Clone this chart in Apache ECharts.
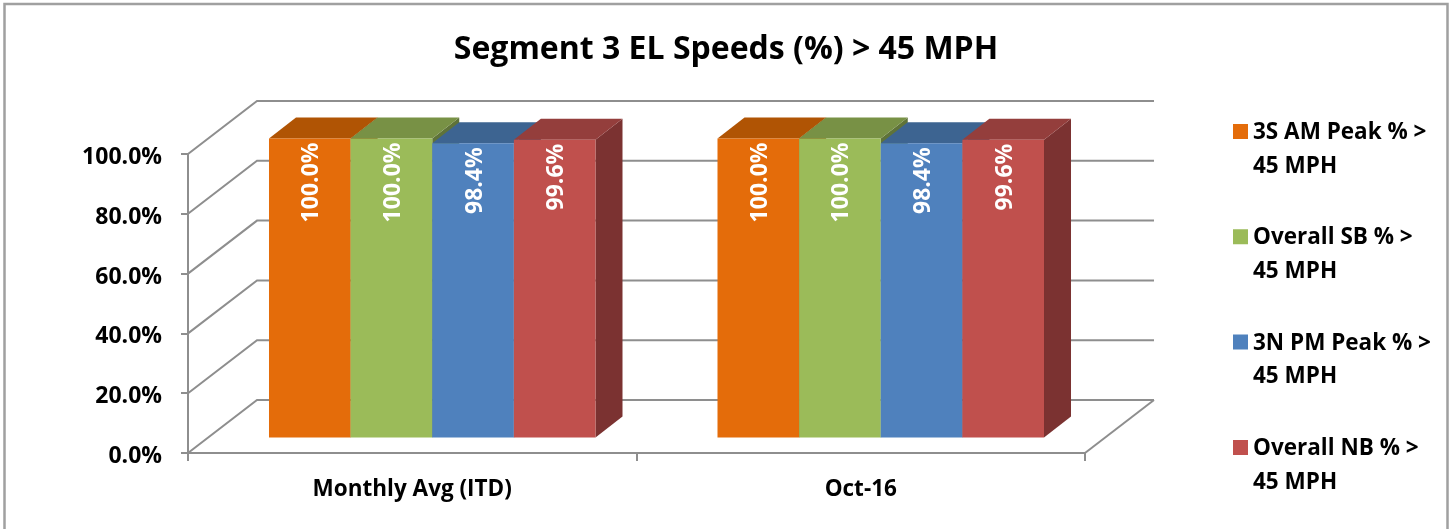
<!DOCTYPE html>
<html><head><meta charset="utf-8">
<style>html,body{margin:0;padding:0;background:#fff;overflow:hidden}#c{width:1450px;height:529px}</style>
<script src="https://cdn.jsdelivr.net/npm/echarts@6/dist/echarts.min.js"></script>
</head><body><div id="c"></div>
<script>
const categories = ['Monthly Avg (ITD)', 'Oct-16'];
const seriesNames = ['3S AM Peak % > 45 MPH', 'Overall SB % > 45 MPH', '3N PM Peak % > 45 MPH', 'Overall NB % > 45 MPH'];
const am3s = [100.0, 100.0];
const overallSB = [100.0, 100.0];
const pm3n = [98.4, 98.4];
const overallNB = [99.6, 99.6];
const seriesValues = [am3s, overallSB, pm3n, overallNB];
const yTicks = [0, 20, 40, 60, 80, 100];
const frontColors = ['#E46C0A', '#9BBB59', '#4F81BD', '#C0504D'];
const topColors = ['#B05404', '#789145', '#3D6491', '#943E3C'];
const sideColors = ['#8F4406', '#5F7339', '#305077', '#7B3231'];

const FONT = '"Open Sans", sans-serif';
const GRAY = '#8E8E8E';
const WALL_DX = 69, WALL_DY = -53;   // back wall offset
const BAR_DX = 20, BAR_DY = -15.5;   // bar front plane offset
const DEPTH_DX = 27, DEPTH_DY = -21; // bar depth
const BAR_FRAC = 0.182;

const chart = echarts.init(document.getElementById('c'), null, {renderer: 'canvas'});

function poly(pts, fill) {
  return {type: 'polygon', shape: {points: pts}, style: {fill: fill, stroke: null}};
}
function barRender(si) {
  return function (params, api) {
    const cat = api.value(0), val = api.value(1);
    const c = api.coord([cat, val]);
    const b = api.coord([cat, 0]);
    const w = api.size([1, 0])[0] * BAR_FRAC;
    const x0 = c[0] + BAR_DX + (si - 2) * w, x1 = x0 + w;
    const yT = c[1] + BAR_DY, yB = b[1] + BAR_DY;
    return {type: 'group', children: [
      poly([[x1, yT], [x1 + DEPTH_DX, yT + DEPTH_DY], [x1 + DEPTH_DX, yB + DEPTH_DY], [x1, yB]], sideColors[si]),
      poly([[x0, yT], [x0 + DEPTH_DX, yT + DEPTH_DY], [x1 + DEPTH_DX, yT + DEPTH_DY], [x1, yT]], topColors[si]),
      poly([[x0, yT], [x1, yT], [x1, yB], [x0, yB]], frontColors[si]),
      {type: 'text', x: (x0 + x1) / 2 + 2, y: yT + 4, rotation: Math.PI / 2,
       style: {text: val.toFixed(1) + '%', fill: '#fff', font: 'bold 23px ' + FONT, align: 'right', verticalAlign: 'middle'}}
    ]};
  };
}
function wallRender(params, api) {
  const v = api.value(0);
  const cs = params.coordSys;
  const y = api.coord([0, v])[1];
  const line = {stroke: GRAY, lineWidth: 2, fill: null};
  const kids = [{type: 'polyline', shape: {points: [[cs.x, y], [cs.x + WALL_DX, y + WALL_DY], [cs.x + cs.width + WALL_DX, y + WALL_DY]]}, style: line}];
  if (v === 0) {
    kids.push({type: 'polyline', shape: {points: [[cs.x + cs.width + WALL_DX, y + WALL_DY], [cs.x + cs.width, y]]}, style: line});
  }
  return {type: 'group', children: kids};
}

const iconPath = 'path://M0 8L15 8L15 23L0 23Z M0 0L0 0Z M0 67L0 67Z';

chart.setOption({
  animation: false,
  backgroundColor: '#fff',
  title: {
    text: 'Segment 3 EL Speeds (%) > 45 MPH', left: 721, top: 29, textAlign: 'center',
    textStyle: {fontFamily: FONT, fontWeight: 'bold', fontSize: 32, color: '#000'}
  },
  legend: {
    orient: 'vertical', left: 1233, top: 116, padding: 0, itemGap: 38.3,
    itemWidth: 15, itemHeight: 67, icon: iconPath, selectedMode: false,
    data: seriesNames,
    formatter: n => n.replace('> ', '>\n'),
    textStyle: {fontFamily: FONT, fontWeight: 'bold', fontSize: 22.5, lineHeight: 33.5, color: '#000'}
  },
  grid: {left: 188, top: 154, width: 897, height: 299, containLabel: false},
  xAxis: {
    type: 'category', data: categories,
    axisLine: {lineStyle: {color: GRAY, width: 2}},
    axisTick: {show: true, length: 8, alignWithLabel: false, lineStyle: {color: GRAY, width: 2}},
    axisLabel: {margin: 25, color: '#000', fontFamily: FONT, fontWeight: 'bold', fontSize: 22.5}
  },
  yAxis: {
    type: 'value', min: 0, max: 100, interval: 20,
    axisLine: {show: true, lineStyle: {color: GRAY, width: 2}},
    axisTick: {show: true, length: 7, lineStyle: {color: GRAY, width: 2}},
    splitLine: {show: false},
    axisLabel: {margin: 26, formatter: v => '{a|' + v.toFixed(1) + '%}',
      rich: {a: {color: '#000', fontFamily: FONT, fontWeight: 'bold', fontSize: 23, lineHeight: 30, verticalAlign: 'bottom'}}}
  },
  graphic: [{
    type: 'rect', silent: true, z: 100,
    shape: {x: 4.5, y: 4, width: 1443, height: 600},
    style: {fill: 'transparent', stroke: '#A0A0A0', lineWidth: 2.5}
  }],
  series: [
    {type: 'custom', name: 'walls', silent: true, z: 1, renderItem: wallRender,
     encode: {y: 0}, data: yTicks.map(v => [v])}
  ].concat(seriesNames.map((name, si) => ({
    type: 'custom', name, z: 2 + si, renderItem: barRender(si),
    itemStyle: {color: frontColors[si]},
    encode: {x: 0, y: 1},
    data: seriesValues[si].map((v, ci) => [ci, v])
  })))
});
</script></body></html>
